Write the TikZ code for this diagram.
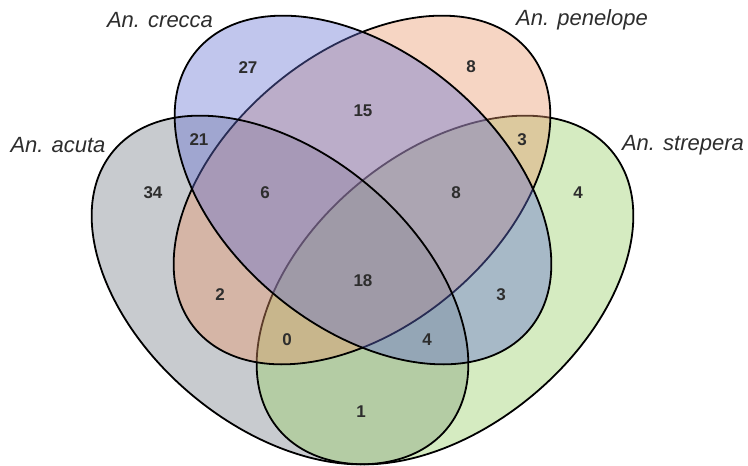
\documentclass[tikz,border=0pt]{standalone}
\usepackage{fontspec}
\setmainfont{Liberation Sans}
\definecolor{cA}{RGB}{118,125,135}
\definecolor{cC}{RGB}{100,112,210}
\definecolor{cP}{RGB}{232,150,105}
\definecolor{cS}{RGB}{150,205,100}
\definecolor{txt}{RGB}{45,45,45}
\begin{document}
\begin{tikzpicture}[x=1pt,y=-1pt,
  setline/.style={line width=1.8pt,draw=black},
  setfill/.style={fill opacity=0.4},
  setlabel/.style={text=txt,font=\fontsize{22}{26}\selectfont\itshape,inner sep=0pt},
  count/.style={text=txt,font=\fontsize{17}{20}\selectfont\bfseries,inner sep=0pt}]
\useasboundingbox (0,0) rectangle (748,466);
\def\ea{217pt}\def\eb{137pt}
% acuta fill
\fill[fill=cA,setfill,shift={(280,290)},rotate=-39.85] (0,0) ellipse [x radius=\ea,y radius=\eb];
% strepera
\filldraw[fill=cS,setfill,setline,shift={(445,290)},rotate=39.85] (0,0) ellipse [x radius=\ea,y radius=\eb];
% penelope
\filldraw[fill=cP,setfill,setline,shift={(362,190)},rotate=39.85] (0,0) ellipse [x radius=\ea,y radius=\eb];
% crecca
\filldraw[fill=cC,setfill,setline,shift={(363,190)},rotate=-39.85] (0,0) ellipse [x radius=\ea,y radius=\eb];
% acuta outline
\draw[setline,shift={(280,290)},rotate=-39.85] (0,0) ellipse [x radius=\ea,y radius=\eb];

\node[setlabel] (lcrecca) at (160,20) {An. crecca};
\node[setlabel] (lpenelope) at (582,20) {An. penelope};
\node[setlabel] (lacuta) at (58,145) {An. acuta};
\node[setlabel] (lstrepera) at (683,145) {An. strepera};

\node[count] (n27) at (248,68) {27};
\node[count] (n15) at (363,111) {15};
\node[count] (n8a) at (471,67) {8};
\node[count] (n21) at (199,140) {21};
\node[count] (n3a) at (522,140) {3};
\node[count] (n34) at (153,193) {34};
\node[count] (n6) at (265,193) {6};
\node[count] (n8b) at (456,193) {8};
\node[count] (n4a) at (578,193) {4};
\node[count] (n18) at (363,281) {18};
\node[count] (n2) at (220,295) {2};
\node[count] (n3b) at (501,295) {3};
\node[count] (n0) at (287,340) {0};
\node[count] (n4b) at (427,340) {4};
\node[count] (n1) at (361,412) {1};
\end{tikzpicture}
\end{document}
